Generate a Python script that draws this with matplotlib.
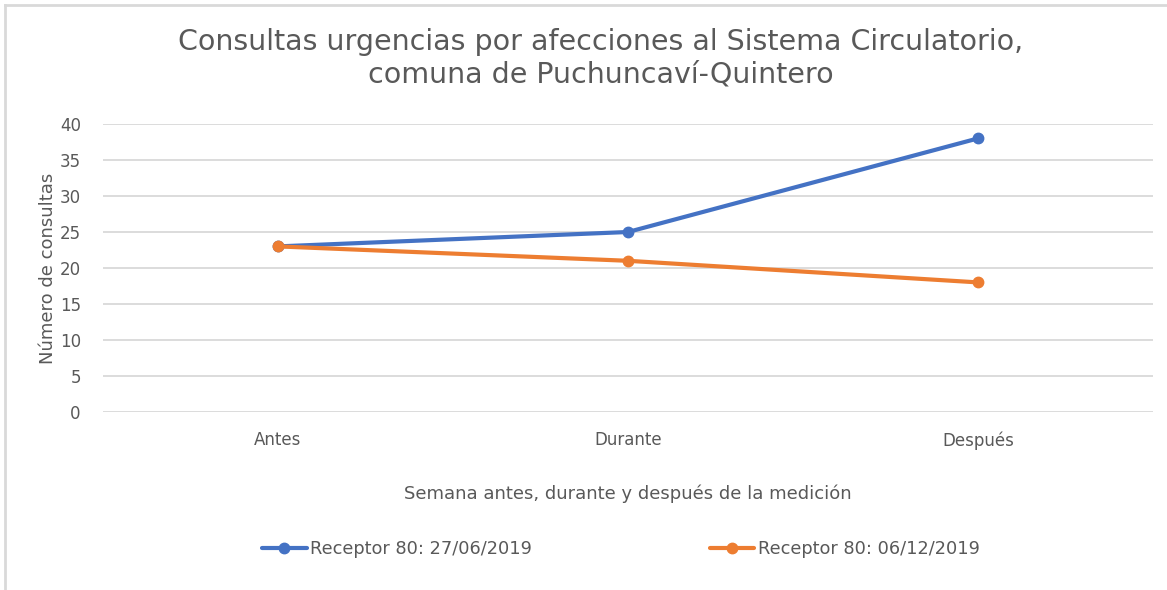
import matplotlib.pyplot as plt
from matplotlib.lines import Line2D

# data
categories = ['Antes', 'Durante', 'Después']
series_names = ['Receptor 80: 27/06/2019', 'Receptor 80: 06/12/2019']
values_jun = [23, 25, 38]
values_dic = [23, 21, 18]
y_ticks = [0, 5, 10, 15, 20, 25, 30, 35, 40]

c_list = ['#4472C4', '#ED7D31']
txt_c = '#595959'
plt.rcParams['font.family'] = ['DejaVu Sans']

fig = plt.figure(figsize=(11.67, 5.90), dpi=100)
ax = fig.add_axes([103/1167, 1 - 412/590, 1050/1167, 288/590])

x = list(range(len(categories)))
for vals, c, name in zip([values_jun, values_dic], c_list, series_names):
    ax.plot(x, vals, color=c, lw=3.0, marker='o', ms=7.5, label=name,
            solid_capstyle='round', zorder=3)

ax.set_xlim(-0.5, len(categories) - 0.5)
ax.set_ylim(0, 40)
ax.set_yticks(y_ticks)
ax.set_xticks(x)
ax.set_xticklabels(categories)
ax.tick_params(length=0, labelsize=12, colors=txt_c)
ax.tick_params(axis='y', pad=16)
ax.tick_params(axis='x', pad=14)
ax.grid(axis='y', color='#D9D9D9', lw=1.3)
ax.set_axisbelow(True)
for s in ax.spines.values():
    s.set_visible(False)

ax.set_ylabel('Número de consultas', fontsize=13, color=txt_c, labelpad=2)
ax.set_xlabel('Semana antes, durante y después de la medición', fontsize=13,
              color=txt_c, labelpad=25)

fig.text(0.515, 1 - 58/590,
         'Consultas urgencias por afecciones al Sistema Circulatorio,\ncomuna de Puchuncaví-Quintero',
         ha='center', va='center', fontsize=20.5, color=txt_c, linespacing=1.2)

fig.legend(loc='center', bbox_to_anchor=(0.532, 1 - 549/590), ncol=2, frameon=False,
           fontsize=12.8, labelcolor=txt_c, handlelength=2.5, handletextpad=0.2,
           columnspacing=10.0)

# thin frame on the top and left edges
fig.add_artist(Line2D([5/1167, 5/1167], [0, 1 - 5/590], color='#D9D9D9', lw=2,
                      transform=fig.transFigure))
fig.add_artist(Line2D([5/1167, 1], [1 - 5/590, 1 - 5/590], color='#D9D9D9', lw=2,
                      transform=fig.transFigure))

fig.savefig('out.png', dpi=100, facecolor='white')
